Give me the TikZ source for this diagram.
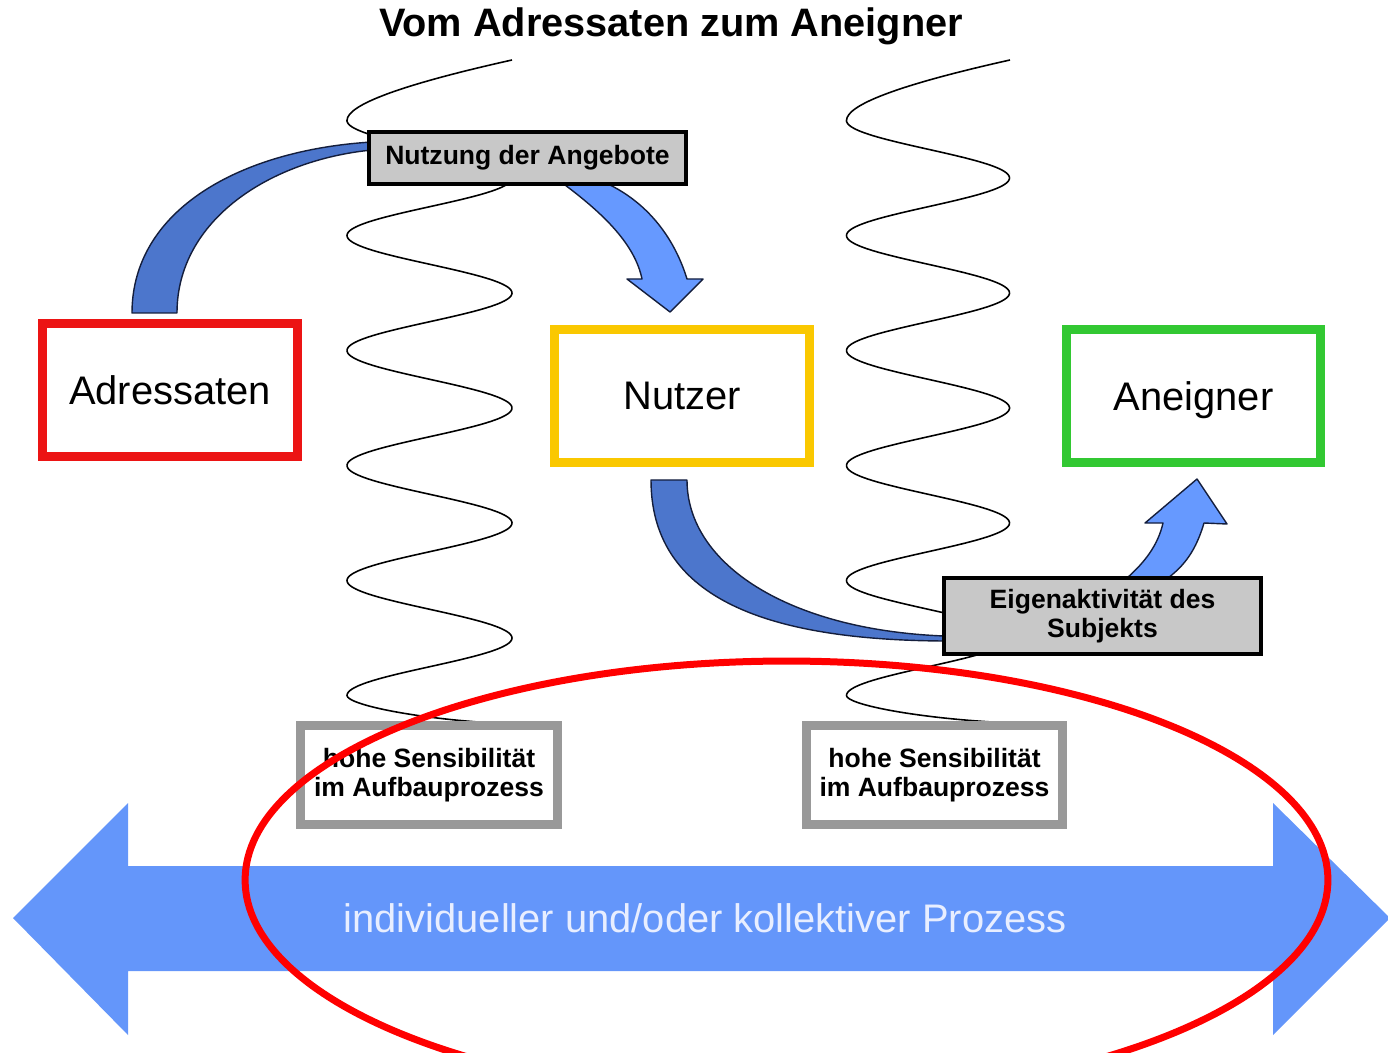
\documentclass[tikz,border=0pt]{standalone}
\usepackage{fontspec}
\setmainfont{Liberation Sans}
\definecolor{bandDark}{RGB}{76,118,204}
\definecolor{bandLight}{RGB}{102,153,255}
\definecolor{bigArrow}{RGB}{100,150,250}
\definecolor{bandLine}{RGB}{20,30,60}
\definecolor{boxgray}{RGB}{200,200,200}
\definecolor{sensgray}{RGB}{153,153,153}
\definecolor{redbox}{RGB}{236,20,20}
\definecolor{yellowbox}{RGB}{250,200,0}
\definecolor{greenbox}{RGB}{50,200,50}
\definecolor{prozesstext}{RGB}{232,238,255}
\begin{document}
\begin{tikzpicture}[x=0.02cm,y=-0.02cm,
  mainbox/.style={draw, line width=0.18cm, fill=white, minimum width=5.1cm, minimum height=2.66cm, inner sep=0pt, text depth=0pt, font=\fontsize{22.7}{26}\selectfont},
  graybox/.style={draw=black, line width=0.08cm, fill=boxgray, inner sep=0pt, align=center, font=\bfseries\fontsize{15.1}{16.3}\selectfont},
  sensbox/.style={draw=sensgray, line width=0.18cm, fill=white, minimum width=5.14cm, minimum height=1.98cm, inner sep=0pt, align=center, font=\bfseries\fontsize{15.1}{16.5}\selectfont},
  wave/.style={black, line width=0.9pt},
  darkband/.style={fill=bandDark, draw=bandLine, line width=0.8pt, line join=round},
  lightband/.style={fill=bandLight, draw=bandLine, line width=0.8pt, line join=round}]

\useasboundingbox (0,0) rectangle (1388,1053);
\clip (0,0) rectangle (1388,1053);

% title
\node[font=\bfseries\fontsize{22.6}{27}\selectfont, anchor=base] (title) at (671,37) {Vom Adressaten zum Aneigner};

% wavy lines
\draw[wave] (512,60) .. controls (400,85) and (347,105) .. (347,120.5)
  -- plot[domain=120.5:695.5, samples=450, variable=\t] ({429.5+82.5*cos((\t-63)*3.13043)},\t)
  .. controls (347,704) and (410,718) .. (493,723);
\draw[wave] (1010,60) .. controls (898,85) and (846.5,105) .. (846.5,120.5)
  -- plot[domain=120.5:695.5, samples=450, variable=\t] ({928+81.5*cos((\t-63)*3.13043)},\t)
  .. controls (846.5,704) and (910,717) .. (992,722);

% big double arrow
\fill[bigArrow] (13,918) -- (128,803) -- (128,866) -- (1273,866) -- (1273,803) -- (1390,918)
  -- (1273,1035) -- (1273,971) -- (128,971) -- (128,1035) -- cycle;
\node[text=prozesstext, font=\fontsize{22.7}{26}\selectfont] (prozess) at (705,918) {individueller und/oder kollektiver Prozess};

% curved band arrows
\draw[darkband] (132,313) .. controls (132,210) and (240,150) .. (372,142)
  -- (372,150) .. controls (270,160) and (177,220) .. (177,313) -- cycle;
\draw[lightband] (565,185) .. controls (605,215) and (635,245) .. (642,279)
  -- (627,279) -- (670,312) -- (703,279) -- (687,279)
  .. controls (675,240) and (650,205) .. (610,185) -- cycle;
\draw[darkband] (651,480) .. controls (651,595) and (760,640) .. (944,641)
  -- (944,636) .. controls (790,630) and (687,565) .. (687,480) -- cycle;
\draw[lightband] (1127,578) .. controls (1145,562) and (1158,545) .. (1163,523)
  -- (1145,523) -- (1197,479) -- (1227,524) -- (1204,523)
  .. controls (1196,550) and (1185,565) .. (1168,578) -- cycle;

% boxes
\node[mainbox, draw=redbox] (adr) at (170,390) {Adressaten};
\node[mainbox, draw=yellowbox] (nutzer) at (682,396) {Nutzer};
\node[mainbox, draw=greenbox] (aneig) at (1193.5,396) {Aneigner};
\node[graybox, minimum width=6.34cm, minimum height=1.04cm] (nutzung) at (527.5,158) {Nutzung der Angebote};
\node[graybox, minimum width=6.34cm, minimum height=1.52cm] (eig) at (1102.5,616) {Eigenaktivität des\\Subjekts};
\node[sensbox] (sens1) at (429,775) {hohe Sensibilität\\im Aufbauprozess};
\node[sensbox] (sens2) at (934.5,775) {hohe Sensibilität\\im Aufbauprozess};

% red ellipse
\draw[red, line width=0.14cm] (786.5,880) ellipse [x radius=10.83cm, y radius=4.38cm];
\end{tikzpicture}
\end{document}
